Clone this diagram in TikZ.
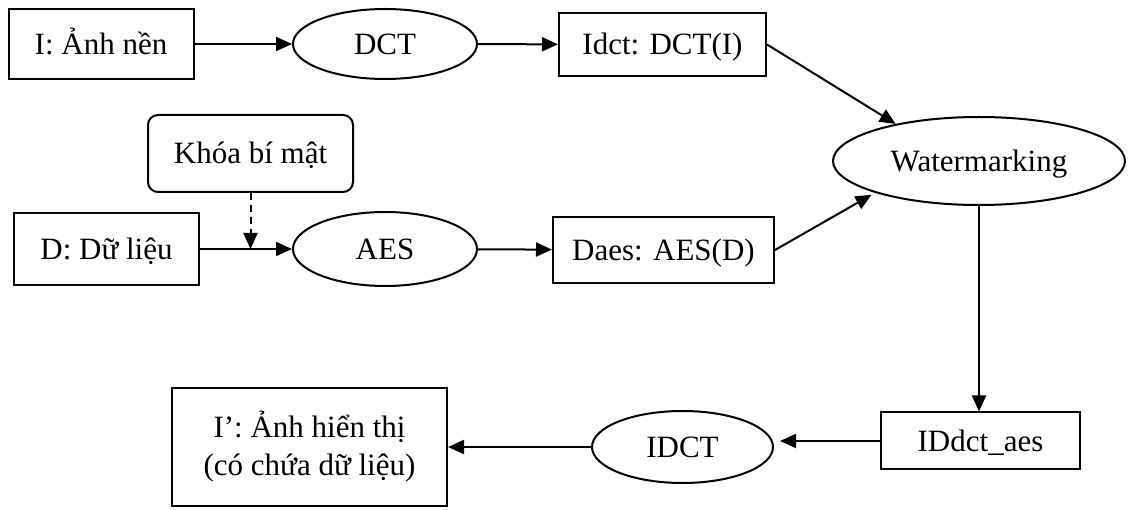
\documentclass[tikz,border=0pt]{standalone}
\usepackage{fontspec}
\setmainfont{Liberation Serif}
\usetikzlibrary{shapes.geometric,arrows.meta}
\begin{document}
\begin{tikzpicture}[x=1pt,y=-1pt,
  every node/.style={font=\fontsize{31}{38}\selectfont, inner sep=0pt, line width=2pt},
  one/.style={text height=26pt, text depth=5pt},
  box/.style={draw, rectangle},
  rbox/.style={draw, rectangle, rounded corners=10pt},
  oval/.style={draw, ellipse},
  arr/.style={line width=2pt, -{Triangle[length=16pt,width=14pt]}},
  dsh/.style={line width=2pt, dash pattern=on 7pt off 5pt, -{Triangle[length=16pt,width=14pt]}}]
\useasboundingbox (0,0) rectangle (1128,510);
\node[box, one, minimum width=185pt, minimum height=70pt] (i) at (101,44) {I: Ảnh nền};
\node[oval, one, minimum width=184pt, minimum height=70pt] (dct) at (385,44) {DCT};
\node[box, one, minimum width=207pt, minimum height=63pt] (idct) at (662.5,44.5) {Idct: DCT(I)};
\node[rbox, one, minimum width=205pt, minimum height=77pt] (khoa) at (250.5,153.5) {Khóa bí mật};
\node[box, one, minimum width=185pt, minimum height=72pt] (d) at (106.5,249) {D: Dữ liệu};
\node[oval, one, minimum width=184pt, minimum height=74pt] (aes) at (385,249) {AES};
\node[box, one, minimum width=221pt, minimum height=66pt] (daes) at (663.5,250) {Daes: AES(D)};
\node[oval, one, minimum width=292pt, minimum height=88pt] (wm) at (979,161) {Watermarking};
\node[box, one, minimum width=199pt, minimum height=57pt] (iddct) at (980.5,441) {IDdct\_aes};
\node[oval, one, minimum width=181pt, minimum height=72pt] (idc) at (682.5,447) {IDCT};
\node[box, minimum width=275pt, minimum height=118pt, align=center] (ip) at (309.5,447) {I’: Ảnh hiển thị\\(có chứa dữ liệu)};
\draw[arr] (i) -- (dct);
\draw[arr] (dct) -- (idct);
\draw[arr] (d) -- (aes);
\coordinate (j) at (khoa.south |- d.east);
\draw[dsh] (khoa.south) -- (j);
\draw[arr] (aes) -- (daes);
\draw[arr] (idct.east) -- (wm.156);
\draw[arr, shorten >=4pt] (daes.east) -- (wm.197);
\draw[arr] (wm.south) -- (wm.south |- iddct.north);
\draw[arr, shorten >=6pt] (iddct.west) -- (iddct.west -| idc.east);
\draw[arr] (idc.west) -- (idc.west -| ip.east);
\end{tikzpicture}
\end{document}
